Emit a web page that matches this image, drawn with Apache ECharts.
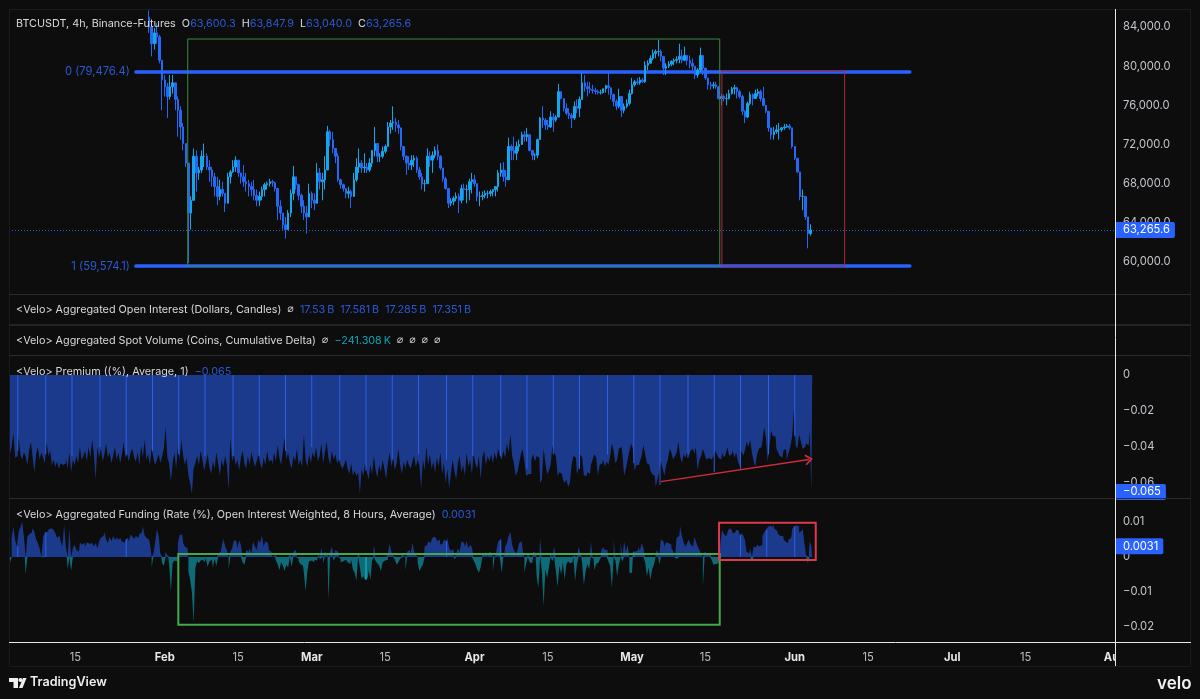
<!DOCTYPE html>
<html>
<head>
<meta charset="utf-8">
<title>BTCUSDT 4h</title>
<script src="https://cdn.jsdelivr.net/npm/echarts@6/dist/echarts.min.js"></script>
<style>html,body{margin:0;padding:0;background:#0d0d0d}#chart{width:1200px;height:699px}</style>
</head>
<body>
<div id="chart"></div>
<script>
// Candles: 12h steps from 29 Jan 2026, prices in thousands of USD.
const priceStart = '2026-01-29T00:00Z';
const firstOpen = 85.0;
const closes = [
84.0,82.3,83.4,83.0,80.6,78.6,77.9,76.9,77.9,78.3,
76.6,75.5,73.8,72.1,70.1,65.0,66.3,70.8,69.1,69.4,
70.8,70.8,69.7,69.4,68.7,67.7,66.7,67.4,67.0,66.0,
68.7,69.2,69.7,70.4,69.1,68.7,68.2,68.0,67.7,67.4,
66.8,66.3,66.7,67.4,67.9,68.0,68.2,68.1,67.5,65.7,
65.0,63.8,63.3,65.0,67.0,68.7,67.9,66.8,65.7,65.0,
64.6,67.0,66.3,66.0,69.1,68.2,68.4,69.4,73.3,72.5,
71.6,70.8,68.4,67.9,67.5,67.0,67.2,66.7,68.4,69.7,
70.1,69.6,69.7,69.4,70.1,71.4,72.1,70.8,70.8,71.3,
71.8,73.8,74.2,74.3,74.0,73.7,71.8,70.8,70.1,69.9,
70.4,70.6,69.4,68.7,68.0,68.0,70.8,70.4,70.9,71.4,
70.8,69.6,68.5,67.5,66.0,66.2,66.5,66.7,66.3,67.5,
67.4,67.4,68.2,68.4,68.0,66.7,66.7,66.8,67.0,67.0,
67.2,67.4,67.7,69.1,69.4,68.7,68.4,71.8,71.4,71.1,
71.8,72.0,73.0,72.8,73.0,71.4,70.9,70.9,72.5,74.7,
74.5,74.0,73.8,74.8,74.5,74.8,77.4,76.7,75.7,75.2,
75.0,74.7,75.9,75.7,76.6,78.3,77.9,77.7,77.6,77.5,
77.4,77.3,77.3,77.7,78.0,77.8,77.1,76.4,75.9,76.9,
75.5,75.9,76.2,77.2,78.1,78.4,78.3,78.6,78.4,80.1,
80.3,80.8,81.3,81.5,81.5,81.0,79.8,80.0,80.2,80.5,
80.6,80.7,81.0,80.6,81.1,80.6,80.3,80.0,79.1,79.6,
81.1,79.8,78.8,78.1,78.0,78.1,77.9,76.7,76.9,76.7,
76.7,77.2,77.7,77.8,77.4,76.9,75.4,74.8,76.2,77.1,
76.7,77.2,77.4,76.7,76.0,75.4,73.7,73.0,73.3,73.5,
73.5,73.7,73.8,73.9,73.7,71.8,70.6,69.2,66.7,66.7,
64.6,62.9,63.2656];
const highs = [
85.7,84.7,83.9,84.4,83.2,80.6,79.1,78.3,79.1,79.1,
78.3,76.9,75.9,74.2,72.1,70.1,66.7,71.6,71.4,69.7,
71.4,72.1,71.1,70.4,69.7,69.1,68.7,68.4,68.2,66.7,
69.1,69.4,70.4,70.8,70.4,69.1,69.9,69.1,68.4,68.2,
68.4,67.4,67.2,67.7,68.1,68.2,68.5,68.4,68.2,67.5,
66.3,65.0,64.6,65.3,67.4,69.8,68.7,68.0,67.0,66.3,
65.7,68.0,67.2,67.0,70.1,69.6,69.1,70.8,73.9,73.5,
73.3,71.6,71.1,68.5,68.0,67.5,67.7,67.4,69.1,70.6,
71.6,70.4,71.1,70.1,70.6,71.4,73.8,72.1,71.1,71.8,
72.0,74.3,74.5,75.9,74.7,74.5,73.7,71.6,70.9,70.8,
70.9,70.9,70.8,69.7,69.1,68.4,71.6,71.3,71.3,71.8,
72.0,70.9,69.6,68.7,67.5,66.5,66.7,67.1,67.0,67.9,
68.0,67.9,68.5,69.1,68.9,68.0,67.2,67.2,67.3,67.3,
67.4,67.4,67.7,69.4,70.1,70.2,69.4,72.7,72.0,72.8,
72.3,72.5,73.3,73.4,73.7,73.0,71.4,71.1,72.6,74.8,
75.9,74.7,74.5,75.4,75.2,75.0,78.2,77.4,76.7,76.2,
75.7,75.2,76.4,76.6,76.9,79.3,79.1,78.4,78.4,78.1,
77.8,77.6,77.6,77.7,78.1,79.3,77.8,77.2,76.6,77.7,
76.9,76.2,76.6,77.6,78.8,78.6,78.8,78.9,78.8,80.5,
80.6,81.1,81.7,81.7,82.7,81.7,81.0,80.3,80.5,80.6,
80.8,81.0,82.3,81.7,82.0,81.1,81.1,80.8,80.0,79.8,
81.9,81.1,79.3,78.8,78.4,78.4,78.4,77.8,77.2,77.1,
77.2,77.6,77.9,78.1,77.9,77.6,77.1,75.5,76.4,77.4,
77.2,77.6,77.7,77.6,77.9,76.0,75.4,73.7,73.8,74.0,
74.2,73.8,74.1,74.1,74.1,73.7,71.8,70.6,69.2,67.4,
66.7,64.6,63.8479];
const lows = [
83.4,81.0,81.7,82.3,80.3,75.5,76.9,74.7,76.6,77.2,
75.5,72.8,72.5,71.4,69.7,59.9,63.3,66.3,67.2,68.4,
69.1,69.7,69.4,68.2,67.7,66.7,65.8,66.3,66.7,65.1,
66.0,68.0,69.1,69.2,68.7,68.0,67.7,67.2,66.7,66.7,
66.3,65.7,65.7,66.3,66.7,67.4,67.7,67.7,67.2,64.3,
64.3,63.3,62.4,63.3,64.6,66.3,67.4,66.3,65.0,64.3,
62.9,65.0,65.5,65.3,66.0,67.4,66.3,67.4,69.7,71.8,
71.1,70.1,68.2,67.5,67.2,66.5,66.5,65.5,67.0,68.2,
69.1,69.1,69.1,69.1,69.2,69.7,70.8,70.2,70.2,70.6,
71.1,71.8,73.1,73.5,73.3,73.1,71.4,70.4,68.9,69.4,
69.4,69.7,69.1,68.4,67.4,67.2,68.0,69.7,69.1,70.6,
70.4,69.4,68.2,67.4,65.5,65.7,65.8,66.2,65.0,66.0,
66.3,66.0,66.3,67.0,67.7,66.2,65.7,66.3,66.5,66.5,
66.7,66.7,66.7,67.2,68.7,68.2,67.7,68.7,70.4,70.4,
70.4,71.3,72.1,72.3,72.3,71.3,70.4,70.4,70.6,72.5,
73.7,73.5,73.5,73.7,73.3,74.3,74.8,76.6,75.4,75.0,
74.6,73.7,74.5,75.2,74.8,76.6,77.4,76.9,77.2,77.2,
77.1,77.1,77.1,77.2,77.3,77.1,76.6,75.9,75.5,75.7,
74.8,75.2,75.7,76.0,77.1,77.9,78.1,78.1,78.3,78.3,
79.6,80.3,80.6,80.8,81.0,80.5,79.1,79.1,79.8,80.0,
80.1,80.3,80.3,80.3,80.8,80.1,79.8,79.6,78.7,78.8,
79.4,79.1,78.6,77.6,77.6,77.7,77.7,76.6,76.0,76.4,
76.0,76.6,77.1,77.1,76.7,76.7,75.0,74.2,74.7,76.0,
76.0,76.7,76.9,76.4,75.9,75.2,73.3,72.5,72.5,73.1,
72.5,73.3,73.5,73.7,73.5,71.6,70.4,69.1,66.3,65.3,
64.3,61.4,62.7];

// Premium and funding: 8h steps from 2 Jan 2026.
const ratesStart = '2026-01-02T08:00Z';
const premium = [
-.042,-.044,-.040,-.032,-.046,-.045,-.034,-.044,-.047,-.043,
-.045,-.050,-.042,-.037,-.046,-.054,-.044,-.040,-.047,-.043,
-.046,-.049,-.037,-.045,-.042,-.050,-.047,-.051,-.048,-.052,
-.049,-.050,-.049,-.046,-.052,-.043,-.054,-.047,-.050,-.045,
-.049,-.040,-.047,-.045,-.042,-.048,-.040,-.046,-.036,-.044,
-.058,-.040,-.046,-.041,-.048,-.044,-.038,-.046,-.043,-.049,
-.045,-.040,-.047,-.043,-.049,-.044,-.037,-.046,-.044,-.048,
-.043,-.041,-.046,-.048,-.043,-.050,-.039,-.046,-.036,-.047,
-.044,-.050,-.041,-.046,-.050,-.047,-.044,-.049,-.045,-.041,
-.029,-.046,-.049,-.059,-.049,-.043,-.052,-.040,-.047,-.036,
-.045,-.050,-.046,-.056,-.060,-.066,-.052,-.049,-.045,-.050,
-.042,-.047,-.053,-.049,-.044,-.051,-.055,-.048,-.052,-.043,
-.049,-.056,-.047,-.051,-.045,-.050,-.064,-.035,-.048,-.044,
-.050,-.047,-.053,-.046,-.042,-.049,-.052,-.045,-.050,-.043,
-.047,-.051,-.048,-.044,-.049,-.052,-.046,-.050,-.042,-.048,
-.047,-.050,-.043,-.048,-.039,-.046,-.050,-.042,-.035,-.047,
-.043,-.049,-.052,-.045,-.048,-.041,-.050,-.047,-.051,-.033,
-.047,-.051,-.044,-.049,-.043,-.046,-.040,-.048,-.045,-.038,
-.049,-.043,-.037,-.046,-.050,-.042,-.047,-.044,-.049,-.047,
-.050,-.052,-.050,-.047,-.052,-.055,-.049,-.056,-.053,-.056,
-.054,-.066,-.052,-.056,-.049,-.054,-.058,-.050,-.055,-.045,
-.053,-.057,-.050,-.054,-.047,-.052,-.058,-.049,-.043,-.051,
-.046,-.053,-.049,-.041,-.050,-.055,-.048,-.052,-.047,-.050,
-.052,-.048,-.045,-.051,-.047,-.050,-.063,-.047,-.053,-.040,
-.050,-.044,-.052,-.048,-.054,-.046,-.051,-.043,-.055,-.049,
-.060,-.052,-.063,-.055,-.047,-.053,-.058,-.049,-.045,-.054,
-.050,-.056,-.043,-.051,-.047,-.055,-.044,-.049,-.052,-.045,
-.058,-.046,-.042,-.050,-.045,-.048,-.044,-.049,-.043,-.047,
-.041,-.045,-.047,-.042,-.046,-.038,-.043,-.033,-.045,-.049,
-.056,-.054,-.049,-.044,-.041,-.048,-.056,-.055,-.055,-.047,
-.044,-.048,-.045,-.046,-.060,-.058,-.041,-.049,-.055,-.053,
-.050,-.039,-.043,-.045,-.056,-.054,-.055,-.058,-.060,-.058,
-.062,-.060,-.050,-.045,-.046,-.055,-.052,-.044,-.046,-.056,
-.056,-.054,-.055,-.050,-.047,-.044,-.046,-.056,-.050,-.049,
-.047,-.051,-.048,-.050,-.045,-.038,-.042,-.049,-.047,-.041,
-.040,-.044,-.056,-.052,-.047,-.042,-.038,-.041,-.053,-.050,
-.050,-.048,-.045,-.039,-.044,-.049,-.050,-.053,-.055,-.056,
-.062,-.058,-.054,-.048,-.052,-.056,-.050,-.047,-.041,-.043,
-.047,-.045,-.043,-.037,-.045,-.049,-.044,-.046,-.043,-.045,
-.042,-.041,-.044,-.040,-.053,-.047,-.045,-.041,-.044,-.047,
-.046,-.047,-.047,-.045,-.042,-.044,-.046,-.047,-.043,-.046,
-.044,-.040,-.045,-.044,-.042,-.046,-.043,-.048,-.051,-.042,
-.045,-.042,-.037,-.040,-.036,-.043,-.048,-.051,-.044,-.041,
-.040,-.037,-.029,-.035,-.048,-.040,-.031,-.034,-.034,-.041,
-.043,-.045,-.046,-.042,-.041,-.047,-.043,-.040,-.034,-.020,
-.039,-.041,-.033,-.037,-.041,-.040,-.038,-.039,-.031,-.065];
const premiumStripeSteps = [5,21,36,52,67,82,97,112,128,143,158,173,189,204,219,234,250,265,281,296,311,326,342,357,372,388,403,418,434,449];
const premiumStripeDepths = [-.042,-.044,-.045,-.040,-.044,-.042,-.044,-.045,-.045,-.045,-.042,-.040,-.047,-.053,-.047,-.044,-.047,-.045,-.045,-.052,-.044,-.052,-.044,-.049,-.061,-.046,-.054,-.052,-.044,-.034];
const funding = [
-.0002,-.0018,.0055,.0088,.0048,.0030,.0072,.0085,.0100,.0060,
-.0050,.0058,.0065,.0070,.0082,.0072,.0050,.0040,.0025,-.0001,
.0058,.0070,.0072,.0078,.0082,.0078,.0075,.0068,.0055,.0060,
.0045,.0030,.0092,.0030,-.0036,.0080,-.0040,.0025,.0035,.0020,
.0015,.0042,.0035,.0040,.0030,.0042,.0038,.0040,.0045,.0030,
.0040,.0025,.0045,.0055,.0060,.0072,.0050,.0040,.0058,.0045,
.0060,.0050,.0055,.0048,.0055,.0045,.0040,.0050,.0055,.0045,
.0065,.0058,.0052,.0060,.0055,.0065,.0070,.0088,.0062,.0055,
.0050,.0040,-.0030,.0010,.0040,.0080,.0060,.0010,-.0018,-.0025,
.0015,.0005,-.0020,-.0098,-.0017,-.0010,-.0012,.0040,.0062,.0065,
.0040,.0030,.0025,-.0040,-.0065,-.0100,-.0188,-.0030,-.0012,-.0018,
-.0010,-.0008,-.0015,-.0005,-.0028,-.0012,-.0008,-.0030,-.0005,-.0025,
.0010,.0015,.0030,.0052,.0030,.0020,-.0035,.0015,.0025,.0048,
.0045,.0025,.0048,.0035,-.0015,-.0022,.0020,.0015,.0025,.0010,
.0045,.0030,.0020,.0050,.0040,.0062,.0030,.0045,.0040,.0020,
.0015,-.0005,.0005,-.0010,-.0020,-.0038,-.0015,-.0025,-.0040,-.0022,
-.0030,.0010,-.0028,.0015,.0020,-.0005,-.0012,-.0020,-.0025,-.0045,
-.0098,-.0040,-.0012,-.0010,-.0015,-.0008,-.0010,.0015,-.0005,.0025,
-.0018,.0015,.0010,-.0122,.0015,.0030,-.0010,.0020,.0015,-.0005,
-.0015,-.0012,-.0008,-.0010,-.0015,-.0020,-.0008,-.0035,-.0045,-.0068,
.0012,-.0030,-.0062,-.0055,-.0065,-.0060,-.0038,-.0065,-.0010,.0035,
-.0012,-.0018,-.0025,-.0040,-.0015,-.0010,-.0008,.0012,.0038,.0015,
.0005,-.0008,-.0022,-.0015,-.0005,.0012,.0005,-.0038,.0015,.0020,
.0008,.0040,.0015,.0005,-.0015,-.0040,-.0030,-.0022,.0030,.0035,
.0045,.0040,.0050,.0058,.0055,.0045,.0050,.0035,.0040,.0050,
.0045,.0055,.0025,.0018,.0022,-.0006,.0010,.0025,.0015,.0045,
.0040,.0030,.0045,.0025,.0035,.0028,-.0010,-.0020,-.0035,-.0045,
-.0030,.0008,.0012,.0010,-.0004,.0014,.0012,-.0040,.0005,.0018,
.0045,.0050,-.0045,.0005,.0030,.0040,.0060,.0072,.0035,.0020,
.0010,.0018,.0040,.0045,.0020,-.0045,-.0020,.0012,-.0015,-.0018,
.0015,.0012,-.0055,-.0088,.0052,-.0040,-.0140,-.0035,-.0060,-.0030,
.0008,-.0012,.0030,-.0040,-.0085,-.0025,-.0050,-.0015,-.0065,-.0020,
-.0012,-.0018,-.0015,.0005,-.0068,-.0022,.0030,.0010,-.0018,-.0080,
-.0040,-.0020,-.0035,.0045,-.0005,-.0038,-.0020,-.0015,-.0008,.0020,
.0028,.0020,.0020,-.0012,-.0025,-.0088,.0050,-.0010,-.0055,-.0020,
.0045,-.0012,.0045,.0015,.0035,-.0045,-.0045,.0015,.0015,.0020,
.0030,.0018,.0040,.0025,-.0015,-.0055,-.0030,-.0065,-.0035,-.0022,
.0012,.0020,-.0022,.0050,.0045,.0030,.0042,.0040,.0035,.0025,
.0018,-.0005,.0055,.0060,.0088,.0060,.0042,.0030,.0040,.0050,
.0035,.0030,.0058,.0045,.0030,.0020,.0010,-.0085,.0015,.0010,
.0008,.0015,-.0008,-.0022,-.0020,-.0018,-.0005,.0040,.0078,.0065,
.0060,.0070,.0082,.0078,.0068,.0070,.0078,.0075,.0062,.0068,
.0062,.0050,.0015,.0010,.0025,-.0012,.0030,.0028,.0035,.0030,
.0035,.0060,.0070,.0078,.0085,.0090,.0085,.0095,.0080,.0075,
.0065,.0060,.0060,.0052,.0045,.0040,.0050,.0055,.0080,.0088,
.0090,.0088,.0070,.0075,.0082,.0040,.0005,-.0017,.0045,.0031];
const fundingStripeSteps = [5,21,67,204,250,281,357,418,433,449];

// Axis ticks
const priceTicks = [60000,64000,68000,72000,76000,80000,84000];
const premiumTicks = [0,-0.02,-0.04,-0.06];
const fundingTicks = [0.01,0,-0.01,-0.02];
const timeTickDates = ['2026-01-15','2026-02-01','2026-02-15','2026-03-01','2026-03-15','2026-04-01','2026-04-15','2026-05-01','2026-05-15','2026-06-01','2026-06-15','2026-07-01','2026-07-15','2026-08-01'];
const timeTickLabels = ['15','Feb','15','Mar','15','Apr','15','May','15','Jun','15','Jul','15','Aug'];

// Drawn levels and ranges
const fibZero = 79476.4, fibOne = 59574.1;
const lastPrice = 63265.6;
const fibFrom = '2026-01-26T12:00Z', fibTo = '2026-06-22T22:00Z';
const greenBoxPrice = {from:'2026-02-05T09:00Z', to:'2026-05-17T17:00Z', top:82775, bottom:fibOne};
const redBoxPrice = {from:'2026-05-18T03:00Z', to:'2026-06-10T12:00Z', top:fibZero, bottom:fibOne};
const premiumTrend = {from:'2026-05-06T12:00Z', to:'2026-06-03T17:00Z', start:-0.0592, end:-0.0469};
const greenBoxFunding = {from:'2026-02-03T14:00Z', to:'2026-05-17T17:00Z', top:0.00086, bottom:-0.0194};
const redBoxFunding = {from:'2026-05-17T14:00Z', to:'2026-06-05T00:00Z', top:0.0098, bottom:-0.00086};

const ms = s => Date.parse(s);
const H = 3600000;
const xMin = ms('2026-01-02T08:00Z'), xMax = ms('2026-08-01T00:00Z');
const t12 = i => ms(priceStart) + i * 12 * H;
const t8 = i => ms(ratesStart) + i * 8 * H;

const BLUE = '#2962ff', FILL = '#1c3a8b', TEAL = '#0f6b78';
const FONT = 'Inter, "Noto Sans", "DejaVu Sans", sans-serif';
const LEGEND_PX = 10.8, TICK_PX = 11.2;
const candleData = closes.map((c, i) => [t12(i),
  (i ? closes[i - 1] : firstOpen) * 1000, c * 1000, lows[i] * 1000, highs[i] * 1000]);
const minusFmt = v => String(v).replace('-', '\u2212');

const boxStyle = (color, width) => ({color:'transparent', borderColor:color, borderWidth:width});
const boxOf = (b, color, width) => [
  {coord:[ms(b.from), b.top], itemStyle:boxStyle(color, width)},
  {coord:[ms(b.to), b.bottom]}];
const badge = {show:true, position:'end', distance:0, color:'#fff', backgroundColor:BLUE,
  padding:[3,5,1,8], borderRadius:2, fontFamily:FONT, fontSize:TICK_PX, lineHeight:12};
const fibLine = (level, text) => [
  {coord:[ms(fibFrom), level], lineStyle:{color:BLUE, width:3.5, type:'solid', opacity:1, cap:'round'},
   label:{show:true, position:'start', distance:6, padding:[2,0,0,0], formatter:text, color:'#2a59d6', fontFamily:FONT, fontSize:TICK_PX}},
  {coord:[ms(fibTo), level]}];

const commonX = idx => ({
  type:'value', gridIndex:idx, min:xMin, max:xMax, scale:true,
  axisLine:{show:false}, axisTick:{show:false}, splitLine:{show:false}, axisLabel:{show:false}
});
const commonY = (idx, min, max, ticks, fmt) => ({
  type:'value', gridIndex:idx, position:'right', min, max, scale:true,
  axisLine:{show:false}, axisTick:{show:false}, splitLine:{show:false},
  axisLabel:{customValues:ticks, formatter:fmt, color:'#c4c6cc', fontFamily:FONT, fontSize:TICK_PX, margin:8, padding:[3,0,0,0], showMinLabel:true, showMaxLabel:true}
});
// Filled 8h profile: one stepped polygon from zero out to each reading
const stepArea = (xAxisIndex, yAxisIndex, values, color, z) => ({
  type:'line', xAxisIndex, yAxisIndex, step:'middle', z, showSymbol:false, symbol:'none', sampling:undefined,
  lineStyle:{width:0}, areaStyle:{color, opacity:1},
  data:values.map((v, i) => [t8(i), v])
});

const legendText = (x, y, text, rich) => ({
  type:'text', left:x, top:y, z:60, silent:true,
  style:{text, font:LEGEND_PX + 'px ' + FONT, fill:'#d6d7db', rich}
});
const rich = {
  w:{fill:'#d8d9dd', font:LEGEND_PX + 'px ' + FONT},
  b:{fill:'#2a59d6', font:LEGEND_PX + 'px ' + FONT},
  t:{fill:'#0aa3b5', font:LEGEND_PX + 'px ' + FONT},
  s:{fill:'#d8d9dd', font:'10.5px "DejaVu Sans"'}
};
const frameLine = (x1, y1, x2, y2, color, w) => ({type:'line', z:55, silent:true,
  shape:{x1, y1, x2, y2}, style:{stroke:color, lineWidth:w || 1}});

const premiumArea = stepArea(1, 1, premium, FILL, 2);
premiumArea.markLine = {
  silent:true, symbol:'none', animation:false,
  data:[
    [{coord:[xMin, premium[premium.length - 1]], lineStyle:{color:'transparent', width:0},
      label:{...badge, formatter:'\u22120.065'}}, {coord:[xMax, premium[premium.length - 1]]}],
    [{coord:[ms(premiumTrend.from), premiumTrend.start], symbol:'none',
      lineStyle:{color:'#d02c3c', width:1.4, type:'solid', opacity:1}, label:{show:false}},
     {coord:[ms(premiumTrend.to), premiumTrend.end],
      symbol:'path://M10 0 L20 14 L17.5 16 L10 6 L2.5 16 L0 14 Z', symbolSize:[11,8]}]
  ]
};
const fundingUp = stepArea(2, 2, funding.map(v => Math.max(v, 0)), FILL, 2);
fundingUp.markLine = {
  silent:true, symbol:'none', animation:false,
  data:[[{coord:[xMin, funding[funding.length - 1]], lineStyle:{color:'transparent', width:0},
    label:{...badge, formatter:'0.0031'}}, {coord:[xMax, funding[funding.length - 1]]}]]
};
fundingUp.markArea = {
  silent:true, animation:false, z:5,
  data:[boxOf(greenBoxFunding, '#45a84a', 2), boxOf(redBoxFunding, '#e0394a', 2)]
};
const fundingDown = stepArea(2, 2, funding.map(v => Math.min(v, 0)), TEAL, 2);

const option = {
  animation:false,
  backgroundColor:'#0d0d0d',
  grid:[
    {left:9, width:1106, top:9, height:285},
    {left:9, width:1106, top:355, height:143},
    {left:9, width:1106, top:498, height:144}
  ],
  xAxis:[commonX(0), commonX(1), {
    ...commonX(2),
    axisLabel:{
      show:true, customValues:timeTickDates.map(ms), hideOverlap:false, margin:10, showMinLabel:true, showMaxLabel:true,
      formatter:v => {
        const lbl = timeTickLabels[timeTickDates.map(ms).indexOf(v)] || '';
        return /\d/.test(lbl) ? '{d|' + lbl + '}' : '{m|' + lbl + '}';
      },
      rich:{
        d:{color:'#b9bbc1', fontFamily:FONT, fontSize:TICK_PX},
        m:{color:'#e6e7ea', fontFamily:FONT, fontSize:TICK_PX, fontWeight:700}
      }
    }
  }],
  yAxis:[
    commonY(0, 56731, 85840, priceTicks, v => v.toLocaleString('en-US', {minimumFractionDigits:1})),
    commonY(1, -0.0683, 0.0111, premiumTicks, minusFmt),
    commonY(2, -0.0243, 0.01686, fundingTicks, minusFmt)
  ],
  series:[
    {
      type:'candlestick', xAxisIndex:0, yAxisIndex:0, data:candleData, barWidth:2, z:3,
      itemStyle:{color:'#12a6ea', color0:'#2468f5', borderColor:'#12a6ea', borderColor0:'#2468f5', borderWidth:1},
      markLine:{
        silent:true, symbol:'none', animation:false, z:2,
        data:[
          [{coord:[xMin, lastPrice], lineStyle:{color:'#2a5ce0', width:1, type:[1,2], opacity:1},
            label:{...badge, formatter:'63,265.6'}}, {coord:[xMax, lastPrice]}],
          fibLine(fibZero, '0 (79,476.4)'),
          fibLine(fibOne, '1 (59,574.1)')
        ]
      },
      markArea:{
        silent:true, animation:false, z:4,
        data:[boxOf(greenBoxPrice, '#3a8a3e', 1), boxOf(redBoxPrice, '#b3263f', 1)]
      }
    },
    premiumArea,
    {
      type:'bar', xAxisIndex:1, yAxisIndex:1, barWidth:1, z:3,
      data:premiumStripeSteps.map((s, i) => [t8(s), premiumStripeDepths[i]]),
      itemStyle:{color:'#2a5fe6'}
    },
    fundingUp,
    fundingDown,
    {
      type:'bar', xAxisIndex:2, yAxisIndex:2, barWidth:1, z:3,
      data:fundingStripeSteps.map(s => [t8(s), funding[s]]),
      itemStyle:{color:p => p.value[1] >= 0 ? '#2a5fe6' : '#14c3d8'}
    }
  ],
  graphic:[
    // panel separators and frame
    frameLine(9.5, 9.5, 1190.5, 9.5, '#1a1b1e'),
    frameLine(9.5, 9.5, 9.5, 666.5, '#1a1b1e'),
    frameLine(1190.5, 9.5, 1190.5, 666.5, '#1a1b1e'),
    frameLine(9.5, 666.5, 1190.5, 666.5, '#1a1b1e'),
    frameLine(9, 294.5, 1191, 294.5, '#2a2c33'),
    frameLine(9, 325, 1191, 325, '#2a2c33', 1.5),
    frameLine(9, 355.5, 1191, 355.5, '#2a2c33'),
    frameLine(9, 498.5, 1191, 498.5, '#2a2c33'),
    // hides the part of the last date label past the price scale
    {type:'rect', z:54, silent:true, shape:{x:1116, y:644, width:74, height:21}, style:{fill:'#0d0d0d'}},
    frameLine(1115.5, 9, 1115.5, 666, '#e8e8e8'),
    frameLine(9, 642.5, 1191, 642.5, '#e8e8e8'),
    // pane legends
    legendText(16, 18, '{w|BTCUSDT, 4h, Binance-Futures}  {w|O}{b|63,600.3}  {w|H}{b|63,847.9}  {w|L}{b|63,040.0}  {w|C}{b|63,265.6}', rich),
    legendText(16, 304, '{w|<Velo> Aggregated Open Interest (Dollars, Candles)}  {s|\u2300}  {b|17.53\u2009B}  {b|17.581\u2009B}  {b|17.285\u2009B}  {b|17.351\u2009B}', rich),
    legendText(16, 335, '{w|<Velo> Aggregated Spot Volume (Coins, Cumulative Delta)}  {s|\u2300}  {t|\u2212241.308\u2009K}  {s|\u2300}  {s|\u2300}  {s|\u2300}  {s|\u2300}', rich),
    legendText(16, 366, '{w|<Velo> Premium ((%), Average, 1)}  {b|\u22120.065}', rich),
    legendText(16, 509, '{w|<Velo> Aggregated Funding (Rate (%), Open Interest Weighted, 8 Hours, Average)}  {b|0.0031}', rich),
    // footer marks
    {type:'polygon', z:60, silent:true, shape:{points:[[9,678],[18,678],[18,688],[13.5,688],[13.5,682],[9,682]]}, style:{fill:'#f0f0f0'}},
    {type:'circle', z:60, silent:true, shape:{cx:20.5,cy:680,r:2.1}, style:{fill:'#f0f0f0'}},
    {type:'polygon', z:60, silent:true, shape:{points:[[19,688],[23,678],[26.5,678],[22.5,688]]}, style:{fill:'#f0f0f0'}},
    {type:'text', left:30, top:676, z:60, silent:true, style:{text:'TradingView', font:'600 12.6px ' + FONT, fill:'#f0f0f0'}},
    {type:'text', left:1157, top:675, z:60, silent:true, style:{text:'velo', font:'600 17px ' + FONT, fill:'#f0f0f0'}}
  ]
};
const chart = echarts.init(document.getElementById('chart'), null, {renderer:'canvas'});
chart.setOption(option);
</script>
</body>
</html>
